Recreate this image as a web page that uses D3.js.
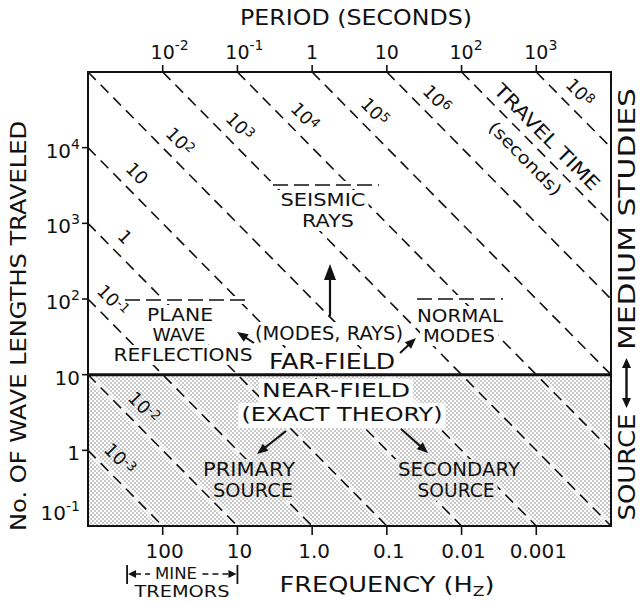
<!DOCTYPE html>
<html><head><meta charset="utf-8">
<script src="https://cdn.jsdelivr.net/npm/d3@7"></script>
<style>
body{margin:0;background:#fff}
svg{display:block}
text{font-family:"DejaVu Sans",sans-serif;fill:#111}
</style>
</head><body>
<svg id="c" width="640" height="602"></svg>
<script>
// ---------- data ----------
const periodDomain = [1e-3, 1e4];          // seconds
const waveDomain = [1e-1, 1e5];            // number of wave lengths
const periodTicks = [1e-2, 1e-1, 1, 10, 1e2, 1e3];
const periodTickLabels = [["10","-2"],["10","-1"],["1",""],["10",""],["10","2"],["10","3"]];
const frequencyTicks = [100, 10, 1, 0.1, 0.01, 0.001];
const frequencyTickLabels = ["100","10","1.0","0.1","0.01","0.001"];
const waveTicks = [1e-1, 1, 10, 1e2, 1e3, 1e4];
const waveTickLabels = [["10","-1"],["1",""],["10",""],["10","2"],["10","3"],["10","4"]];
const travelTimes = [1e-3,1e-2,1e-1,1,10,1e2,1e3,1e4,1e5,1e6,1e7,1e8];
const travelTimeLabels = [["10","-3"],["10","-2"],["10","-1"],["1",""],["10",""],["10","2"],["10","3"],["10","4"],["10","5"],["10","6"],null,["10","8"]];
const travelLabelPeriods = [0.00185,0.00388,0.00149,0.00216,0.00313,0.0118,0.0748,0.555,4.8,32.4,1000,2660];
const nearFarBoundary = 10;
const mineTremorFreqs = [300, 10];

// ---------- setup ----------
const W = 640, H = 602;
const svg = d3.select("#c");
const L = 88, R = 611, T = 72, B = 526;
const x = d3.scaleLog().domain(periodDomain).range([L, R]);
const y = d3.scaleLog().domain(waveDomain).range([B, T]);
const fx = d3.scaleLog().domain([1/periodDomain[0], 1/periodDomain[1]]).range([L, R]);
const INK = "#111";

const defs = svg.append("defs");
const pat = defs.append("pattern").attr("id","stip").attr("width",4).attr("height",4)
  .attr("patternUnits","userSpaceOnUse");
pat.append("rect").attr("width",4).attr("height",4).attr("fill","#fff");
pat.append("circle").attr("cx",1).attr("cy",1).attr("r",0.7).attr("fill","#666");
pat.append("circle").attr("cx",3).attr("cy",3).attr("r",0.7).attr("fill","#666");
const mask = defs.append("mask").attr("id","txtmask").attr("maskUnits","userSpaceOnUse")
  .attr("x",0).attr("y",0).attr("width",W).attr("height",H);
mask.append("rect").attr("width",W).attr("height",H).attr("fill","#fff");

// near-field shading
svg.append("rect").attr("x",L).attr("y",y(nearFarBoundary)).attr("width",R-L)
  .attr("height",y(waveDomain[0])-y(nearFarBoundary)).attr("fill","url(#stip)");

// ---------- travel-time lines ----------
const [Tmin,Tmax] = periodDomain, [Nmin,Nmax] = waveDomain;
const segs = travelTimes.map((c,i)=>{
  const T0 = Math.max(Tmin, c/Nmax), T1 = Math.min(Tmax, c/Nmin);
  return {c, i, pts: T0 < T1 ? [[T0, c/T0],[T1, c/T1]] : null};
}).filter(d=>d.pts);
const lineGen = d3.line().x(d=>x(d[0])).y(d=>y(d[1]));
const lg = svg.append("g").attr("mask","url(#txtmask)");
lg.selectAll("path.halo").data(segs).join("path").attr("class","halo")
  .attr("d",d=>lineGen(d.pts)).attr("fill","none").attr("stroke","#fff")
  .attr("stroke-opacity",0.6).attr("stroke-width",7);
lg.selectAll("path.tt").data(segs).join("path").attr("class","tt")
  .attr("d",d=>lineGen(d.pts)).attr("fill","none").attr("stroke",INK)
  .attr("stroke-width",1.6).attr("stroke-dasharray","11,7");

// line labels (rotated along the lines)
const ddx = x(10)-x(1), ddy = y(0.1)-y(1);
const dl = Math.hypot(ddx, ddy);
const ang = Math.atan2(ddy, ddx)*180/Math.PI;
const perp = [ddy/dl, -ddx/dl];
function supText(sel, base, exp, fsBase, fsExp, dyExp){
  sel.append("tspan").text(base).attr("font-size",fsBase);
  if (exp) sel.append("tspan").text(exp).attr("font-size",fsExp).attr("dy",dyExp);
}
const labG = svg.append("g");
travelTimes.forEach((c,i)=>{
  const Tp = travelLabelPeriods[i];
  const fxp = x(Tp), fyp = y(c/Tp);
  if (travelTimeLabels[i]) {
    const cx = fxp + 17*perp[0], cy = fyp + 17*perp[1];
    const g = labG.append("g").attr("transform",`translate(${cx},${cy}) rotate(${ang})`);
    const t = g.append("text").attr("text-anchor","middle").attr("y",6.5);
    supText(t, travelTimeLabels[i][0], travelTimeLabels[i][1], 18, 13, -5);
  } else {
    const g1 = labG.append("g").attr("transform",`translate(${fxp+15.5*perp[0]},${fyp+15.5*perp[1]}) rotate(${ang})`);
    g1.append("text").attr("text-anchor","middle").attr("y",7).attr("font-size",19)
      .attr("textLength",141).attr("lengthAdjust","spacingAndGlyphs").text("TRAVEL TIME");
    const g2 = labG.append("g").attr("transform",`translate(${fxp-15.5*perp[0]},${fyp-15.5*perp[1]}) rotate(${ang})`);
    g2.append("text").attr("text-anchor","middle").attr("y",6).attr("font-size",17)
      .attr("textLength",96).attr("lengthAdjust","spacingAndGlyphs").text("(seconds)");
  }
});

// ---------- annotations ----------
const annG = svg.append("g");
const notes = [
  {t:"SEISMIC", x:323, y:206, w:85, fs:18},
  {t:"RAYS", x:328, y:227, w:52, fs:18},
  {t:"PLANE", x:180, y:321, w:66, fs:18},
  {t:"WAVE", x:179, y:341, w:53, fs:18},
  {t:"REFLECTIONS", x:183, y:361, w:139, fs:18},
  {t:"NORMAL", x:460, y:322, w:86, fs:18},
  {t:"MODES", x:459, y:342, w:72, fs:18},
  {t:"(MODES, RAYS)", x:329, y:340, w:148, fs:20},
  {t:"FAR-FIELD", x:332, y:369, w:126, fs:22},
  {t:"NEAR-FIELD", x:336, y:397, w:148, fs:20, bg:true},
  {t:"(EXACT THEORY)", x:342, y:421, w:201, fs:20, bg:true},
  {t:"PRIMARY", x:249, y:476, w:92, fs:19},
  {t:"SOURCE", x:253, y:497, w:80, fs:19},
  {t:"SECONDARY", x:459, y:476, w:122, fs:19},
  {t:"SOURCE", x:456, y:497, w:77, fs:19}
];
notes.forEach(n=>{
  const t = annG.append("text").attr("x",n.x).attr("y",n.y).attr("text-anchor","middle")
    .attr("font-size",n.fs).attr("textLength",n.w).attr("lengthAdjust","spacingAndGlyphs").text(n.t);
  const b = t.node().getBBox();
  mask.append("rect").attr("x",b.x-3).attr("y",b.y+1).attr("width",b.width+6).attr("height",b.height-1).attr("fill","#000");
  if (n.bg) annG.insert("rect","text").attr("x",b.x-3).attr("y",b.y+1).attr("width",b.width+6).attr("height",b.height+1).attr("fill","#fff");
});
const overlines = [
  {x1:273, x2:379, y:185},
  {x1:125, x2:245, y:300},
  {x1:417, x2:503, y:299}
];
overlines.forEach(o=>{
  annG.append("line").attr("x1",o.x1).attr("x2",o.x2).attr("y1",o.y).attr("y2",o.y)
    .attr("stroke",INK).attr("stroke-width",1.6).attr("stroke-dasharray","15,6");
  mask.append("rect").attr("x",o.x1-3).attr("y",o.y-4).attr("width",o.x2-o.x1+6).attr("height",8).attr("fill","#000");
});
function arrow(g, x1, y1, x2, y2, len, hw, sw){
  const dx = x2-x1, dy = y2-y1, d = Math.hypot(dx,dy), ux = dx/d, uy = dy/d;
  const bx = x2-ux*len, by = y2-uy*len;
  g.append("line").attr("x1",x1).attr("y1",y1).attr("x2",bx+ux*2).attr("y2",by+uy*2)
    .attr("stroke",INK).attr("stroke-width",sw);
  g.append("path").attr("d",`M${x2},${y2}L${bx-uy*hw},${by+ux*hw}L${bx+uy*hw},${by-ux*hw}Z`).attr("fill",INK);
}
arrow(annG, 330, 316, 330, 264, 16, 6, 2.2);
arrow(annG, 254, 343, 237, 332, 11, 4.5, 2);
arrow(annG, 400, 353, 416, 338, 11, 4.5, 2);
arrow(annG, 286, 431, 257, 454, 11, 4.5, 2);
arrow(annG, 401, 429, 428, 453, 11, 4.5, 2);

// ---------- frame, boundary, axes ----------
const axG = svg.append("g");
axG.append("rect").attr("x",L).attr("y",T).attr("width",R-L).attr("height",B-T)
  .attr("fill","none").attr("stroke",INK).attr("stroke-width",2);
axG.append("line").attr("x1",L).attr("x2",R).attr("y1",y(nearFarBoundary)).attr("y2",y(nearFarBoundary))
  .attr("stroke",INK).attr("stroke-width",3);

// top (period) axis
periodTicks.forEach((p,i)=>{
  axG.append("line").attr("x1",x(p)).attr("x2",x(p)).attr("y1",T).attr("y2",T-7).attr("stroke",INK).attr("stroke-width",1.6);
  const t = axG.append("text").attr("x",0).attr("y",59);
  supText(t, periodTickLabels[i][0], periodTickLabels[i][1], 19, 14, -9);
  const bw = t.node().getSubStringLength(0, periodTickLabels[i][0].length);
  t.attr("x", x(p) - bw/2);
});
axG.append("text").attr("x",356).attr("y",25).attr("text-anchor","middle").attr("font-size",21)
  .attr("textLength",232).attr("lengthAdjust","spacingAndGlyphs").text("PERIOD (SECONDS)");

// bottom (frequency) axis
frequencyTicks.forEach((f,i)=>{
  axG.append("line").attr("x1",fx(f)).attr("x2",fx(f)).attr("y1",B).attr("y2",B+9).attr("stroke",INK).attr("stroke-width",1.6);
  axG.append("text").attr("x",fx(f)+2).attr("y",558).attr("text-anchor","middle").attr("font-size",20).text(frequencyTickLabels[i]);
});
const ft = axG.append("text").attr("x",387).attr("y",592).attr("text-anchor","middle").attr("font-size",21)
  .attr("textLength",215).attr("lengthAdjust","spacingAndGlyphs");
ft.append("tspan").text("FREQUENCY (H");
ft.append("tspan").text("Z").attr("font-size",14).attr("dy",4);
ft.append("tspan").text(")").attr("dy",-4);

// mine tremors bracket
const m0 = fx(mineTremorFreqs[0]), m1 = fx(mineTremorFreqs[1]), my = 574;
axG.append("line").attr("x1",m0).attr("x2",m0).attr("y1",565).attr("y2",584).attr("stroke",INK).attr("stroke-width",1.8);
axG.append("line").attr("x1",m1).attr("x2",m1).attr("y1",565).attr("y2",584).attr("stroke",INK).attr("stroke-width",1.8);
axG.append("path").attr("d",`M${m0+1},${my}L${m0+9},${my-4}L${m0+9},${my+4}Z`).attr("fill",INK);
axG.append("path").attr("d",`M${m1-1},${my}L${m1-9},${my-4}L${m1-9},${my+4}Z`).attr("fill",INK);
axG.append("line").attr("x1",m0+9).attr("x2",m0+24).attr("y1",my).attr("y2",my).attr("stroke",INK).attr("stroke-width",1.6).attr("stroke-dasharray","5,4");
axG.append("line").attr("x1",m1-35).attr("x2",m1-9).attr("y1",my).attr("y2",my).attr("stroke",INK).attr("stroke-width",1.6).attr("stroke-dasharray","6,4");
axG.append("text").attr("x",176).attr("y",579).attr("text-anchor","middle").attr("font-size",15)
  .attr("textLength",42).attr("lengthAdjust","spacingAndGlyphs").text("MINE");
axG.append("text").attr("x",182).attr("y",597).attr("text-anchor","middle").attr("font-size",15)
  .attr("textLength",95).attr("lengthAdjust","spacingAndGlyphs").text("TREMORS");

// left (wave lengths) axis
waveTicks.forEach((n,i)=>{
  if (n > Nmin) axG.append("line").attr("x1",L).attr("x2",L-6).attr("y1",y(n)).attr("y2",y(n)).attr("stroke",INK).attr("stroke-width",1.6);
  const t = axG.append("text").attr("x",80).attr("y",Math.min(y(n)+10, B-6)).attr("text-anchor","end");
  supText(t, waveTickLabels[i][0], waveTickLabels[i][1], 20, 14, -9);
});
axG.append("text").attr("transform","translate(26,326) rotate(-90)").attr("text-anchor","middle")
  .attr("font-size",22).attr("textLength",410).attr("lengthAdjust","spacingAndGlyphs")
  .text("No. OF WAVE LENGTHS TRAVELED");

// right title
axG.append("text").attr("transform","translate(635,219) rotate(-90)").attr("text-anchor","middle")
  .attr("font-size",23).attr("textLength",262).attr("lengthAdjust","spacingAndGlyphs").text("MEDIUM STUDIES");
axG.append("text").attr("transform","translate(635,467) rotate(-90)").attr("text-anchor","middle")
  .attr("font-size",23).attr("textLength",107).attr("lengthAdjust","spacingAndGlyphs").text("SOURCE");
arrow(axG, 626.5, 383, 626.5, 358, 10, 4.5, 2.4);
arrow(axG, 626.5, 383, 626.5, 408, 10, 4.5, 2.4);
</script>
</body></html>
